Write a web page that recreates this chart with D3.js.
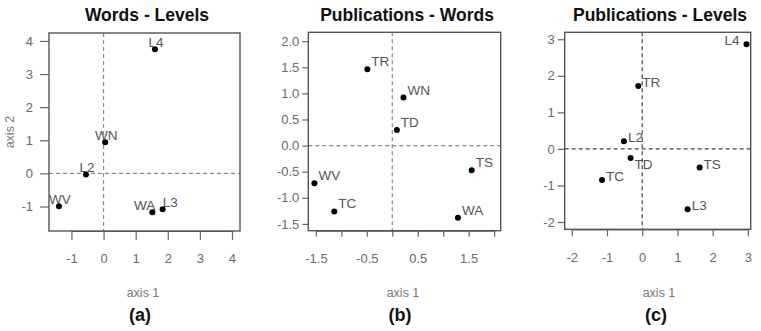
<!DOCTYPE html>
<html>
<head>
<meta charset="utf-8">
<script src="https://cdn.jsdelivr.net/npm/d3@7"></script>
<style>
  html, body { margin: 0; padding: 0; background: #fff; }
  svg { display: block; font-family: "Liberation Sans", Arial, sans-serif; }
</style>
</head>
<body>
<svg id="chart" width="761" height="331"></svg>
<script>
// ---- Panel (a): Words - Levels ----
const aNames = ["L4", "WN", "L2", "WV", "WA", "L3"];
const aX = [1.60, 0.05, -0.55, -1.39, 1.52, 1.84];
const aY = [3.75, 0.94, -0.03, -0.99, -1.17, -1.08];
const aLabelPos = ["t", "t", "t", "t", "tl", "tr"];
const aXTicks = [-1, 0, 1, 2, 3, 4];
const aYTicks = [-1, 0, 1, 2, 3, 4];
const aXTickLabels = ["-1", "0", "1", "2", "3", "4"];
const aYTickLabels = ["-1", "0", "1", "2", "3", "4"];

// ---- Panel (b): Publications - Words ----
const bNames = ["TR", "WN", "TD", "TS", "WA", "WV", "TC"];
const bX = [-0.49, 0.22, 0.09, 1.56, 1.29, -1.53, -1.14];
const bY = [1.46, 0.92, 0.30, -0.47, -1.38, -0.72, -1.26];
const bLabelPos = ["ur", "ur", "ur", "ur", "ur", "ur", "ur"];
const bXTicks = [-1.5, -1, -0.5, 0, 0.5, 1, 1.5, 2];
const bXTickLabels = ["-1.5", "", "-0.5", "", "0.5", "", "1.5", ""];
const bYTicks = [-1.5, -1, -0.5, 0, 0.5, 1, 1.5, 2];
const bYTickLabels = ["-1.5", "-1.0", "-0.5", "0.0", "0.5", "1.0", "1.5", "2.0"];

// ---- Panel (c): Publications - Levels ----
const cNames = ["L4", "TR", "L2", "TD", "TC", "TS", "L3"];
const cX = [2.96, -0.11, -0.52, -0.33, -1.14, 1.63, 1.29];
const cY = [2.86, 1.72, 0.21, -0.25, -0.85, -0.51, -1.65];
const cLabelPos = ["l", "r", "r", "br", "r", "r", "r"];
const cXTicks = [-2, -1, 0, 1, 2, 3];
const cYTicks = [-2, -1, 0, 1, 2, 3];
const cXTickLabels = ["-2", "-1", "0", "1", "2", "3"];
const cYTickLabels = ["-2", "-1", "0", "1", "2", "3"];

const titles = ["Words - Levels", "Publications - Words", "Publications - Levels"];
const tags = ["(a)", "(b)", "(c)"];

const svg = d3.select("#chart");

const panels = [
  { names: aNames, xs: aX, ys: aY, pos: aLabelPos, xt: aXTicks, yt: aYTicks, xtl: aXTickLabels, ytl: aYTickLabels,
    box: [49, 33, 240, 231], xd: [-1.70, 4.25], yd: [-1.74, 4.24], tick: 9, ylab: "axis 2",
    titleX: 147, tagX: 140, xlabX: 143, dash: "#888" },
  { names: bNames, xs: bX, ys: bY, pos: bLabelPos, xt: bXTicks, yt: bYTicks, xtl: bXTickLabels, ytl: bYTickLabels,
    box: [308.3, 32.3, 500.7, 230.7], xd: [-1.65, 2.13], yd: [-1.63, 2.17], tick: 6, ylab: null,
    titleX: 407, tagX: 400, xlabX: 403, dash: "#888" },
  { names: cNames, xs: cX, ys: cY, pos: cLabelPos, xt: cXTicks, yt: cYTicks, xtl: cXTickLabels, ytl: cYTickLabels,
    box: [564.7, 32.3, 750.7, 229.3], xd: [-2.20, 3.08], yd: [-2.20, 3.19], tick: 7, ylab: null,
    titleX: 660, tagX: 656, xlabX: 659, dash: "#444" }
];

panels.forEach((p, i) => {
  const [x0, y0, x1, y1] = p.box;
  const xs = d3.scaleLinear().domain(p.xd).range([x0, x1]);
  const ys = d3.scaleLinear().domain(p.yd).range([y1, y0]);
  const g = svg.append("g");

  // axes
  const xAxis = d3.axisBottom(xs).tickValues(p.xt).tickSize(p.tick).tickPadding(23 - p.tick)
    .tickFormat((d, k) => p.xtl[k]);
  const yAxis = d3.axisLeft(ys).tickValues(p.yt).tickSize(p.tick).tickPadding(i === 0 ? 7 : 3)
    .tickFormat((d, k) => p.ytl[k]);

  const gx = g.append("g").attr("transform", `translate(0,${y1})`).call(xAxis);
  const gy = g.append("g").attr("transform", `translate(${x0},0)`).call(yAxis);
  [gx, gy].forEach(a => {
    a.attr("font-size", 13).attr("font-family", "Liberation Sans, Arial, sans-serif");
    a.select(".domain").remove();
    a.selectAll(".tick line").attr("stroke", "#666").attr("stroke-width", 1.2);
    a.selectAll(".tick text").attr("fill", "#6a6a6a");
  });
  // R-style axis lines spanning first to last tick
  g.append("line").attr("x1", xs(p.xt[0])).attr("x2", xs(p.xt[p.xt.length - 1]))
    .attr("y1", y1 + 0.5).attr("y2", y1 + 0.5).attr("stroke", "#666").attr("stroke-width", 1.2);

  // reference dashed lines
  g.append("line").attr("x1", xs(0)).attr("x2", xs(0)).attr("y1", y0).attr("y2", y1)
    .attr("stroke", p.dash).attr("stroke-width", 1.2).attr("stroke-dasharray", "4,3");
  g.append("line").attr("x1", x0).attr("x2", x1).attr("y1", ys(0)).attr("y2", ys(0))
    .attr("stroke", p.dash).attr("stroke-width", 1.2).attr("stroke-dasharray", "4,3");

  // box
  g.append("rect").attr("x", x0).attr("y", y0).attr("width", x1 - x0).attr("height", y1 - y0)
    .attr("fill", "none").attr("stroke", "#555").attr("stroke-width", 1.4);

  // points
  const data = p.names.map((n, k) => ({ n, x: p.xs[k], y: p.ys[k], pos: p.pos[k] }));
  g.selectAll("circle.pt").data(data).enter().append("circle")
    .attr("class", "pt")
    .attr("cx", d => xs(d.x)).attr("cy", d => ys(d.y)).attr("r", 3).attr("fill", "#000");

  // labels
  g.selectAll("text.lab").data(data).enter().append("text")
    .attr("class", "lab")
    .attr("font-size", 13.5)
    .attr("fill", "#555")
    .attr("x", d => {
      const px = xs(d.x);
      if (d.pos === "t") return px + 1;
      if (d.pos === "tl") return px + 3;
      if (d.pos === "tr") return px;
      if (d.pos === "l") return px - 7;
      return px + 4;
    })
    .attr("y", d => {
      const py = ys(d.y);
      if (d.pos === "t" || d.pos === "tl" || d.pos === "tr") return py - 2;
      if (d.pos === "ur") return py - 3;
      if (d.pos === "br") return py + 11;
      return py + 1;
    })
    .attr("text-anchor", d => d.pos === "t" ? "middle" : (d.pos === "tl" || d.pos === "l") ? "end" : "start")
    .text(d => d.n);

  // title
  svg.append("text").attr("x", p.titleX).attr("y", 21).attr("text-anchor", "middle")
    .attr("font-size", 17.5).attr("font-weight", "bold").attr("fill", "#111")
    .text(titles[i]);

  // x axis label
  svg.append("text").attr("x", p.xlabX).attr("y", 297).attr("text-anchor", "middle")
    .attr("font-size", 12.5).attr("fill", "#777").text("axis 1");

  // panel tag
  svg.append("text").attr("x", p.tagX).attr("y", 321).attr("text-anchor", "middle")
    .attr("font-size", 18).attr("font-weight", "bold").attr("fill", "#111").text(tags[i]);

  if (p.ylab) {
    svg.append("text").attr("transform", `translate(14,${(y0 + y1) / 2}) rotate(-90)`)
      .attr("text-anchor", "middle").attr("font-size", 12.5).attr("fill", "#777").text(p.ylab);
  }
});
</script>
</body>
</html>
